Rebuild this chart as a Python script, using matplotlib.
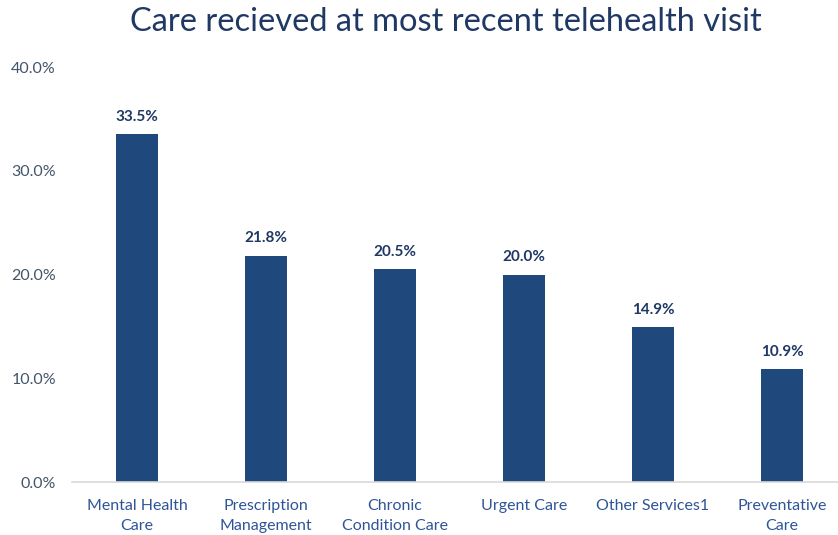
import matplotlib
matplotlib.use('Agg')
import matplotlib.pyplot as plt

# Share of respondents by type of care at their last telehealth visit
categories = ['Mental Health\nCare', 'Prescription\nManagement', 'Chronic\nCondition Care',
              'Urgent Care', 'Other Services1', 'Preventative\nCare']
values = [33.5, 21.8, 20.5, 20.0, 14.9, 10.9]
y_ticks = [0, 10, 20, 30, 40]

plt.rcParams['font.family'] = ['Lato', 'DejaVu Sans']

bar_color = '#1F497D'
label_color = '#2F5597'
tick_color = '#44546A'

fig = plt.figure(figsize=(8.38, 5.35), dpi=100)
ax = fig.add_axes([0.0865, 0.099, 0.9236, 0.7757])

x = range(len(categories))
bars = ax.bar(x, values, width=0.33, color=bar_color)

for rect, v in zip(bars, values):
    ax.text(rect.get_x() + rect.get_width() / 2, v + 1.0, f'{v:.1f}%',
            ha='center', va='bottom', fontsize=11, fontweight='bold', color='#1F3864')

ax.set_xlim(-0.5, len(categories) - 0.5)
ax.set_ylim(0, 40)
ax.set_yticks(y_ticks)
ax.set_yticklabels([f'{t:.1f}%' for t in y_ticks], color=tick_color, fontsize=11.5)
ax.set_xticks(list(x))
ax.set_xticklabels(categories, color=label_color, fontsize=11.5, linespacing=1.55)
ax.tick_params(axis='both', length=0)
ax.tick_params(axis='x', pad=12)
ax.tick_params(axis='y', pad=12)

for side in ['top', 'right', 'left']:
    ax.spines[side].set_visible(False)
ax.spines['bottom'].set_color('#D9D9D9')
ax.spines['bottom'].set_linewidth(1.2)

fig.text(0.532, 0.958, 'Care recieved at most recent telehealth visit', ha='center', va='center',
         fontsize=23.5, color='#1F3864')

fig.savefig('out.png', dpi=100, facecolor='white')
